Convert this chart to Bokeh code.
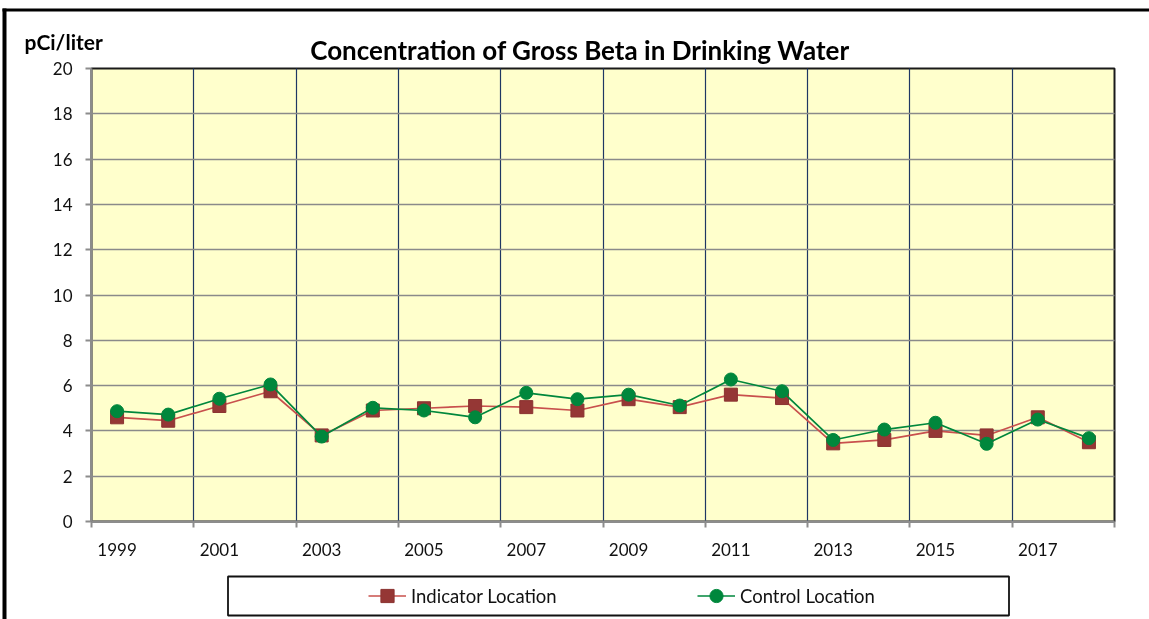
from bokeh.plotting import figure
from bokeh.models import FixedTicker, Range1d, Label, Legend, LegendItem, BoxAnnotation
from bokeh.embed import file_html
from bokeh.resources import INLINE

years = list(range(1999, 2019))
indicator = [4.6, 4.45, 5.1, 5.75, 3.8, 4.9, 5.0, 5.1, 5.05, 4.9,
             5.4, 5.05, 5.6, 5.45, 3.45, 3.6, 4.0, 3.8, 4.6, 3.5]
control = [4.87, 4.72, 5.42, 6.05, 3.75, 5.02, 4.9, 4.6, 5.68, 5.4,
           5.6, 5.12, 6.27, 5.75, 3.6, 4.06, 4.36, 3.43, 4.5, 3.68]
x_tick_years = [1999, 2001, 2003, 2005, 2007, 2009, 2011, 2013, 2015, 2017]
x_tick_labels = ["1999", "2001", "2003", "2005", "2007", "2009", "2011", "2013", "2015", "2017"]
y_ticks = [0, 2, 4, 6, 8, 10, 12, 14, 16, 18, 20]

title_text = "Concentration of Gross Beta in Drinking Water"
y_unit = "pCi/liter"
series_names = ["Indicator Location", "Control Location"]

FONT = "Lato"
RED_LINE = "#c8504d"
RED_MARK = "#953735"
GREEN = "#00873c"
VGRID = "#1f3763"
HGRID = "#8a8a8a"

# ---- layout geometry (page pixels) ----
PAGE_W, PAGE_H = 1149, 619
AX_L, AX_R, AX_T, AX_B = 91, 1114, 68, 521     # plot area
SLOT = 60                                       # off-screen room for the axis panels

x_lo, x_hi = years[0] - 0.5, years[-1] + 0.5
y_lo, y_hi = 0, 20
xpu = (AX_R - AX_L) / (x_hi - x_lo)
ypu = (AX_B - AX_T) / (y_hi - y_lo)

p = figure(width=PAGE_W + SLOT, height=PAGE_H + SLOT, output_backend="svg", toolbar_location=None,
           x_range=Range1d(x_lo - AX_L / xpu, x_hi + (PAGE_W - AX_R) / xpu),
           y_range=Range1d(y_lo - (PAGE_H - AX_B) / ypu, y_hi + AX_T / ypu),
           min_border_left=SLOT, min_border_right=0, min_border_top=0, min_border_bottom=SLOT,
           background_fill_color="white", border_fill_color="white",
           styles={"position": "fixed", "left": f"-{SLOT}px", "top": "0px"})
p.outline_line_color = None

# plot area background + dark frame
p.add_layout(BoxAnnotation(left=x_lo, right=x_hi, bottom=y_lo, top=y_hi, level="image",
                           fill_color="#ffffcc", fill_alpha=1,
                           line_color="#1a1a1a", line_alpha=1, line_width=2))

boundaries = [y + 0.5 for y in range(years[0] - 1, years[-1] + 1, 2)]
xa = p.xaxis[0]
xa.fixed_location = y_lo
xa.bounds = (x_lo, x_hi)
xa.ticker = FixedTicker(ticks=x_tick_years, minor_ticks=boundaries)
xa.major_label_overrides = {yv: lab for yv, lab in zip(x_tick_years, x_tick_labels)}
xa.major_tick_out = 0
xa.major_tick_in = 0
xa.minor_tick_out = 6
xa.minor_tick_in = 0
xa.minor_tick_line_color = "#8c8c8c"
xa.minor_tick_line_width = 2
xa.major_label_standoff = 15

ya = p.yaxis[0]
ya.fixed_location = x_lo
ya.bounds = (y_lo, y_hi)
ya.ticker = FixedTicker(ticks=y_ticks, minor_ticks=[])
ya.major_tick_out = 6
ya.major_tick_in = 0
ya.major_tick_line_color = "#8c8c8c"
ya.major_tick_line_width = 2
ya.major_label_standoff = 13

for ax in (xa, ya):
    ax.axis_line_color = "#8c8c8c"
    ax.axis_line_width = 2
    ax.major_label_text_font = FONT
    ax.major_label_text_font_size = "17px"
    ax.major_label_text_color = "#111111"

# grid lines limited to the plot area
xg, yg = p.xgrid[0], p.ygrid[0]
inner_x = boundaries[1:-1]
inner_y = y_ticks[1:-1]
if "cross_bounds" in xg.properties():
    xg.ticker = FixedTicker(ticks=inner_x)
    xg.bounds = (x_lo, x_hi)
    xg.cross_bounds = (y_lo, y_hi)
    xg.grid_line_color = VGRID
    xg.grid_line_width = 1.2
    yg.ticker = FixedTicker(ticks=inner_y)
    yg.bounds = (y_lo, y_hi)
    yg.cross_bounds = (x_lo, x_hi)
    yg.grid_line_color = HGRID
    yg.grid_line_width = 1.6
else:
    xg.visible = False
    yg.visible = False
    p.segment(x0=inner_x, y0=[y_lo] * len(inner_x), x1=inner_x, y1=[y_hi] * len(inner_x),
              line_color=VGRID, line_width=1.2)
    p.segment(x0=[x_lo] * len(inner_y), y0=inner_y, x1=[x_hi] * len(inner_y), y1=inner_y,
              line_color=HGRID, line_width=1.6)

r1l = p.line(years, indicator, line_color=RED_LINE, line_width=1.7)
r1m = p.scatter(years, indicator, marker="square", size=13, fill_color=RED_MARK,
                line_color="#8a3331", line_width=1)
r2l = p.line(years, control, line_color=GREEN, line_width=1.7)
r2m = p.scatter(years, control, marker="circle", size=13, fill_color=GREEN, line_color=GREEN)

# screen units are measured from the frame's bottom-left corner (= page bottom-left)
def sy(page_y):
    return PAGE_H - page_y

def screen_box(left, right, top, bottom, **kw):
    return BoxAnnotation(left=left, right=right, top=sy(top), bottom=sy(bottom),
                         left_units="screen", right_units="screen", top_units="screen",
                         bottom_units="screen", **kw)

# outer chart border (left and top edges; the others lie beyond the window)
p.add_layout(screen_box(2, 6, 8, PAGE_H, fill_color="black", fill_alpha=1, line_alpha=0))
p.add_layout(screen_box(2, PAGE_W, 8, 11, fill_color="black", fill_alpha=1, line_alpha=0))

# legend frame
p.add_layout(screen_box(227.5, 1008.5, 576, 615, fill_color="white", fill_alpha=1,
                        line_color="#111111", line_alpha=1, line_width=1.8))

p.add_layout(Label(x=579.5, y=sy(49.5), x_units="screen", y_units="screen", text=title_text,
                   text_font=FONT, text_font_style="bold", text_font_size="26px",
                   text_align="center", text_baseline="alphabetic", text_color="black"))
p.add_layout(Label(x=24, y=sy(41), x_units="screen", y_units="screen", text=y_unit,
                   text_font=FONT, text_font_style="bold", text_font_size="21px",
                   text_align="left", text_baseline="alphabetic", text_color="black"))

legend = Legend(items=[LegendItem(label=series_names[0], renderers=[r1l, r1m]),
                       LegendItem(label=series_names[1], renderers=[r2l, r2m])],
                orientation="horizontal", location=(368, sy(612)),
                glyph_width=38, glyph_height=33, label_height=33, label_standoff=5,
                label_width=150, spacing=136, padding=0, margin=0,
                border_line_alpha=0, background_fill_alpha=0,
                label_text_font=FONT, label_text_font_size="18.5px", label_text_color="#111111")
p.add_layout(legend, "center")

open("out.html", "w").write(file_html(p, INLINE))
